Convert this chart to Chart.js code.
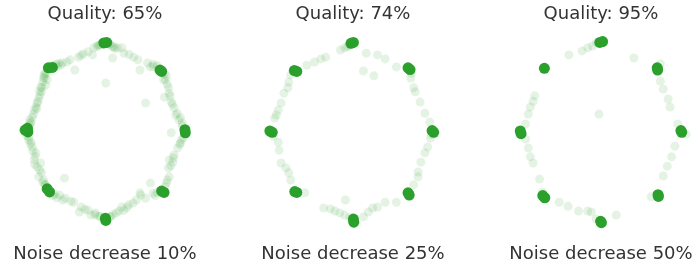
<!DOCTYPE html>
<html>
<head>
<meta charset="utf-8">
<script src="https://cdn.jsdelivr.net/npm/chart.js@4"></script>
<style>
  html, body { margin: 0; padding: 0; background: #ffffff; overflow: hidden; }
  body { width: 696px; height: 265px; position: relative; }
  .panel { position: absolute; top: 0; width: 200px; height: 265px; }
</style>
</head>
<body>
<div class="panel" style="left:5px"><canvas id="c0"></canvas></div>
<div class="panel" style="left:253px"><canvas id="c1"></canvas></div>
<div class="panel" style="left:501px"><canvas id="c2"></canvas></div>
<script>
// ---- labels ----
const qualityLabels = ['Quality: 65%', 'Quality: 74%', 'Quality: 95%'];
const noiseLabels = ['Noise decrease 10%', 'Noise decrease 25%', 'Noise decrease 50%'];

// ---- panel 1 (Quality 65%) ----
const modes65 = [
  [-0.03,1.98],[0.04,1.99],
  [1.37,1.37],[1.41,1.34],
  [1.99,0.03],[2.0,-0.04],
  [1.41,-1.35],[1.47,-1.38],
  [0.01,-1.96],[0.02,-2.01],
  [-1.44,-1.30],[-1.38,-1.37],
  [-1.99,0.02],[-1.93,0.06],[-1.92,-0.02],
  [-1.41,1.42],[-1.31,1.43]
];
const samples65 = [
  [-1.06,1.53],[-0.87,1.60],[-0.66,1.66],[-0.42,1.78],[-0.28,1.87],[-0.75,1.37],[-0.31,1.71],
  [-1.18,1.46],[-0.54,1.73],[-0.14,1.93],[-0.95,1.55],[-1.22,1.5],
  [0.19,1.89],[0.42,1.87],[0.47,1.75],[0.71,1.66],[0.82,1.60],[0.19,1.64],[0.87,1.37],
  [1.13,1.44],[1.06,1.53],[0.31,1.87],[0.12,1.95],[1.2,1.45],
  [0.02,1.08],[1.01,0.63],
  [-1.53,1.19],[-1.48,1.03],[-1.58,0.88],[-1.65,0.74],[-1.69,0.63],[-1.76,0.47],[-1.81,0.31],
  [-1.84,0.20],[-1.60,0.99],[-1.72,0.54],[-1.44,1.15],[-1.62,0.81],[-1.88,0.13],[-1.5,1.3],
  [-1.78,0.38],[-1.67,0.66],
  [1.46,1.15],[1.58,0.97],[1.48,0.76],[1.65,0.65],[1.72,0.52],[1.76,0.36],[1.84,0.25],
  [1.60,0.85],[1.53,1.24],[1.92,0.12],
  [-1.81,-0.36],[-1.72,-0.49],[-1.76,-0.65],[-1.69,-0.81],[-1.58,-0.94],[-1.53,-1.10],
  [-1.65,-1.03],[-1.84,-0.25],[-1.60,-0.72],[-1.48,-1.21],[-1.9,-0.14],[-1.74,-0.57],
  [-1.01,-1.06],
  [-1.13,-1.44],[-0.99,-1.51],[-0.78,-1.60],[-0.59,-1.71],[-0.42,-1.78],[-0.24,-1.84],
  [-0.64,-1.82],[-0.35,-1.89],[-1.25,-1.42],[-0.12,-1.92],
  [0.28,-1.84],[0.47,-1.78],[0.59,-1.66],[0.78,-1.55],[0.89,-1.44],[1.01,-1.51],
  [0.42,-1.71],[0.87,-1.39],[0.14,-1.92],[1.2,-1.4],
  [1.13,-1.17],
  [1.53,-1.17],[1.60,-1.03],[1.58,-0.83],[1.69,-0.70],[1.72,-0.54],[1.81,-0.38],
  [1.88,-0.27],[1.60,-0.65],[1.65,-0.04],[1.95,-0.15],
  // denser near the modes
  [-0.1,1.95],[-0.2,1.9],[-0.17,1.93],[0.1,1.96],[0.22,1.9],[0.25,1.85],
  [-1.3,1.47],[-1.15,1.52],[-1.1,1.48],[-1.46,1.3],[-1.5,1.2],[-1.55,1.1],[-1.52,1.25],
  [-1.93,0.1],[-1.88,0.25],[-1.86,0.18],[-1.95,-0.1],[-1.9,-0.2],[-1.86,-0.3],[-1.8,-0.45],
  [-1.5,-1.2],[-1.55,-1.15],[-1.45,-1.3],[-1.3,-1.45],[-1.2,-1.5],[-1.05,-1.55],
  [-0.15,-1.92],[-0.25,-1.88],[0.12,-1.93],[0.2,-1.88],[0.35,-1.8],
  [1.3,-1.38],[1.25,-1.45],[1.5,-1.25],[1.55,-1.1],
  [1.9,-0.2],[1.86,-0.3],[1.92,0.18],[1.88,0.3],[1.8,0.4],
  [1.3,1.47],[1.2,1.5],[1.48,1.28],[1.5,1.15],[1.55,1.05],
  [-1.7,0.5],[-1.63,0.9],[-1.57,0.98],[-1.75,-0.75],[-1.62,-0.88],[-0.5,-1.76],[-0.85,-1.58],
  [0.55,-1.72],[0.7,-1.62],[1.7,-0.6],[1.64,-0.78],[1.68,0.6],[1.62,0.78],[-0.6,1.7],[0.6,1.72]
];

// ---- panel 2 (Quality 74%) ----
const modes74 = [
  [-0.05,1.97],[0.01,1.99],
  [1.37,1.42],[1.42,1.38],
  [1.97,0.01],[2.01,-0.03],
  [1.37,-1.39],[1.40,-1.44],
  [0.01,-1.98],[0.02,-2.05],
  [-1.45,-1.36],[-1.40,-1.38],
  [-2.07,0],[-2.01,-0.03],
  [-1.46,1.36],[-1.40,1.34]
];
const samples74 = [
  [-1.15,1.48],[-0.96,1.55],[-0.80,1.62],[-0.68,1.66],[-0.31,1.82],[-0.21,1.87],[-0.14,1.89],
  [0.33,1.75],[0.61,1.71],[0.80,1.62],[1.08,1.44],[0.26,1.35],[0.52,1.24],
  [1.44,1.19],[1.51,0.97],[1.55,0.88],[1.67,0.65],[1.79,0.40],[1.91,0.20],
  [1.93,-0.16],[1.86,-0.36],[1.79,-0.49],[1.69,-0.70],[1.62,-0.92],[1.62,-1.03],[1.51,-1.21],
  [1.08,-1.60],[0.80,-1.60],[0.61,-1.71],[0.49,-1.73],[0.38,-1.82],[0.26,-1.93],
  [-0.19,-1.55],[-0.73,-1.73],[-0.56,-1.75],[-0.45,-1.80],[-0.33,-1.84],[-0.21,-1.89],
  [-1.20,-1.39],
  [-1.84,-0.43],[-1.79,-0.72],[-1.67,-0.83],[-1.60,-0.94],[-1.55,-1.10],[-1.86,-0.25],
  [-1.95,0.29],[-1.86,0.47],[-1.79,0.63],[-1.72,0.85],[-1.62,0.97],[-1.60,1.10],
  [-1.55,1.26],[-1.91,0.36],
  [-0.1,1.92],[1.45,1.3],[-1.98,-0.12],[1.95,-0.08],[-0.08,-1.95]
];

// ---- panel 3 (Quality 95%) ----
const modes95 = [
  [-0.03,1.99],[0.04,2.01],
  [1.40,1.42],[1.41,1.37],
  [1.99,0.01],[2.01,-0.03],
  [1.42,-1.43],[1.43,-1.47],
  [-0.01,-2.03],[0.01,-2.06],
  [-1.45,-1.45],[-1.40,-1.50],
  [-2.01,0],[-1.99,-0.06],
  [-1.41,1.41]
];
const samples95 = [
  [-0.80,1.71],[-0.47,1.80],[-0.33,1.87],[-0.21,1.91],[-0.12,1.98],
  [0.82,1.64],[1.48,1.51],
  [1.48,1.12],[1.55,0.94],[1.67,0.72],[1.72,0.54],[1.91,0.16],[2.12,-0.07],
  [1.84,-0.34],[1.76,-0.58],[1.65,-0.79],[1.55,-1.01],[1.25,-1.48],
  [-1.04,-1.60],[-0.82,-1.69],[-0.56,-1.80],[-0.33,-1.80],[-0.24,-1.82],[-0.12,-1.98],[0.38,-1.89],
  [-1.65,0.79],[-1.69,0.67],[-1.76,0.54],[-1.81,0.38],[-1.88,0.16],[-1.88,-0.18],
  [-1.81,-0.38],[-1.76,-0.58],[-1.69,-0.72],[-1.53,-1.08],[-1.46,-1.37],
  [-0.05,0.38]
];

const modeSets = [modes65, modes74, modes95];
const sampleSets = [samples65, samples74, samples95];

// axis ranges (data units)
const xRange = [-2.353, 2.353];
const yRange = [-2.436, 2.279];

const GREEN = 'rgba(44,160,44,1)';
const GREEN_FAINT = 'rgba(44,160,44,0.12)';
const TEXT = '#333333';
const FONT = "'DejaVu Sans', sans-serif";

function toPts(arr) { return arr.map(p => ({ x: p[0], y: p[1] })); }

for (let i = 0; i < 3; i++) {
  new Chart(document.getElementById('c' + i), {
    type: 'scatter',
    data: {
      datasets: [
        {
          label: 'samples',
          data: toPts(sampleSets[i]),
          pointRadius: 4.5,
          pointBorderWidth: 0,
          pointBackgroundColor: GREEN_FAINT,
          clip: false
        },
        {
          label: 'modes',
          data: toPts(modeSets[i]),
          pointRadius: 5.5,
          pointBorderWidth: 0,
          pointBackgroundColor: GREEN,
          clip: false
        }
      ]
    },
    options: {
      responsive: true,
      maintainAspectRatio: false,
      animation: false,
      events: [],
      layout: { padding: 0 },
      scales: {
        x: { type: 'linear', display: false, min: xRange[0], max: xRange[1] },
        y: { type: 'linear', display: false, min: yRange[0], max: yRange[1] }
      },
      plugins: {
        legend: { display: false },
        tooltip: { enabled: false },
        title: {
          display: true,
          text: qualityLabels[i],
          color: TEXT,
          font: { family: FONT, size: 18, weight: 'normal', lineHeight: 1.2 },
          padding: { top: 4, bottom: 4 }
        },
        subtitle: {
          display: true,
          position: 'bottom',
          text: noiseLabels[i],
          color: TEXT,
          font: { family: FONT, size: 18, weight: 'normal', lineHeight: 1.2 },
          padding: { top: 4, bottom: 0 }
        }
      }
    }
  });
}
</script>
</body>
</html>
